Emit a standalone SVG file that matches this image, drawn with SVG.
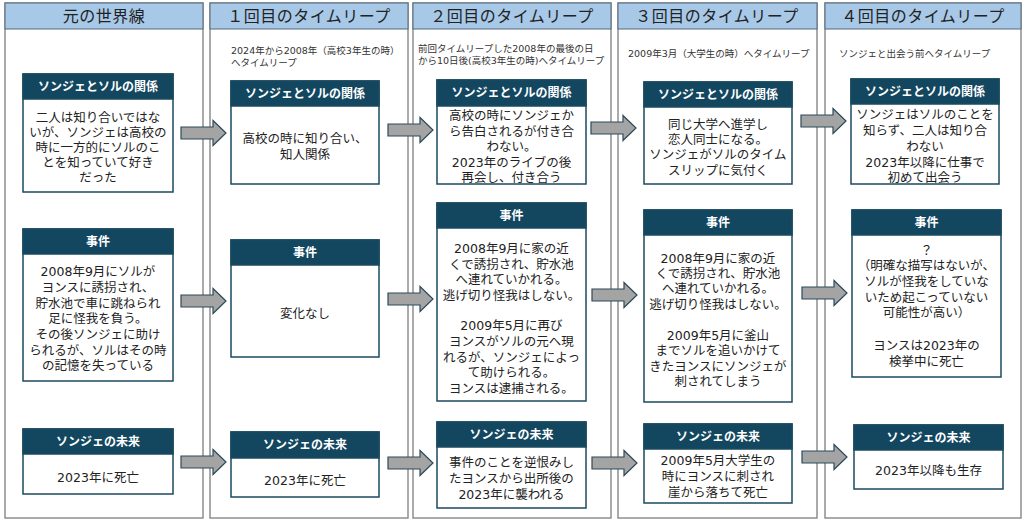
<svg xmlns="http://www.w3.org/2000/svg" width="1024" height="523" viewBox="0 0 1024 523">
<style>
text { font-family: "DejaVu Sans", "Noto Sans CJK JP", sans-serif; }
.col { fill: #ffffff; stroke: #8f8f8f; stroke-width: 1.5; }
.colhead { fill: #a8c8e8; stroke: #55687a; stroke-width: 1; }
.coltitle { font-size: 16px; fill: #222222; text-anchor: middle; dominant-baseline: central; letter-spacing: 0.5px; }
.sub { font-size: 9.5px; fill: #333333; dominant-baseline: central; }
.nbox { fill: #ffffff; stroke: #1b4a60; stroke-width: 1.5; }
.nhead { fill: #134760; stroke: #1b4a60; stroke-width: 1.5; }
.nht { font-size: 12px; font-weight: bold; fill: #ffffff; text-anchor: middle; dominant-baseline: central; }
.body { font-size: 12.5px; fill: #222222; text-anchor: middle; dominant-baseline: central; }
.arr { fill: #a4a4a4; stroke: #2d4a5a; stroke-width: 1.2; stroke-linejoin: miter; }
</style>
<defs>
<path id="arrow" d="M0,-6 H32 V-12.5 L45,0 L32,12.5 V6 H0 Z"/>
</defs>

<g id="columns">
<g id="col1">
<rect class="col" x="5" y="3" width="198" height="515"/>
<rect class="colhead" x="5" y="3" width="198" height="26"/>
<text class="coltitle" x="104" y="16">元の世界線</text>
</g>
<g id="col2">
<rect class="col" x="210" y="3" width="198" height="515"/>
<rect class="colhead" x="210" y="3" width="198" height="26"/>
<text class="coltitle" x="309" y="16">１回目のタイムリープ</text>
<text class="sub"><tspan x="231" y="50">2024年から2008年（高校3年生の時）</tspan><tspan x="231" y="62">へタイムリープ</tspan></text>
</g>
<g id="col3">
<rect class="col" x="413" y="3" width="198" height="515"/>
<rect class="colhead" x="413" y="3" width="198" height="26"/>
<text class="coltitle" x="512" y="16">２回目のタイムリープ</text>
<text class="sub"><tspan x="418" y="48">前回タイムリープした2008年の最後の日</tspan><tspan x="418" y="60">から10日後(高校3年生の時)へタイムリープ</tspan></text>
</g>
<g id="col4">
<rect class="col" x="618" y="3" width="199" height="515"/>
<rect class="colhead" x="618" y="3" width="199" height="26"/>
<text class="coltitle" x="717" y="16">３回目のタイムリープ</text>
<text class="sub" x="628" y="53">2009年3月（大学生の時）へタイムリープ</text>
</g>
<g id="col5">
<rect class="col" x="825" y="3" width="196" height="515"/>
<rect class="colhead" x="825" y="3" width="196" height="26"/>
<text class="coltitle" x="923" y="16">４回目のタイムリープ</text>
<text class="sub" x="839" y="53">ソンジェと出会う前へタイムリープ</text>
</g>
</g>

<g id="connectors">
<use href="#arrow" class="arr" x="181" y="133"/>
<use href="#arrow" class="arr" x="388" y="130"/>
<use href="#arrow" class="arr" x="591" y="128"/>
<use href="#arrow" class="arr" x="801" y="121"/>
<use href="#arrow" class="arr" x="181" y="301"/>
<use href="#arrow" class="arr" x="388" y="299"/>
<use href="#arrow" class="arr" x="592" y="295"/>
<use href="#arrow" class="arr" x="802" y="293"/>
<use href="#arrow" class="arr" x="181" y="462"/>
<use href="#arrow" class="arr" x="388" y="463"/>
<use href="#arrow" class="arr" x="592" y="463"/>
<use href="#arrow" class="arr" x="802" y="457"/>
</g>

<g id="rel1">
<rect class="nbox" x="23" y="74" width="150" height="118"/>
<rect class="nhead" x="23" y="74" width="150" height="25"/>
<text class="nht" x="98" y="86.5">ソンジェとソルの関係</text>
<text class="body"><tspan x="98" y="117">二人は知り合いではな</tspan><tspan x="98" y="132">いが、ソンジェは高校の</tspan><tspan x="98" y="147">時に一方的にソルのこ</tspan><tspan x="98" y="162">とを知っていて好き</tspan><tspan x="98" y="177">だった</tspan></text>
</g>
<g id="rel2">
<rect class="nbox" x="231" y="81" width="148" height="103"/>
<rect class="nhead" x="231" y="81" width="148" height="25"/>
<text class="nht" x="305" y="93.5">ソンジェとソルの関係</text>
<text class="body"><tspan x="305" y="138">高校の時に知り合い、</tspan><tspan x="305" y="154">知人関係</tspan></text>
</g>
<g id="rel3">
<rect class="nbox" x="437" y="80" width="149" height="104"/>
<rect class="nhead" x="437" y="80" width="149" height="26"/>
<text class="nht" x="511.5" y="93">ソンジェとソルの関係</text>
<text class="body"><tspan x="511.5" y="115">高校の時にソンジェか</tspan><tspan x="511.5" y="131">ら告白されるが付き合</tspan><tspan x="511.5" y="146">わない。</tspan><tspan x="511.5" y="162">2023年のライブの後</tspan><tspan x="511.5" y="177">再会し、付き合う</tspan></text>
</g>
<g id="rel4">
<rect class="nbox" x="644" y="82" width="148" height="102"/>
<rect class="nhead" x="644" y="82" width="148" height="25"/>
<text class="nht" x="718" y="94.5">ソンジェとソルの関係</text>
<text class="body"><tspan x="718" y="124">同じ大学へ進学し</tspan><tspan x="718" y="139">恋人同士になる。</tspan><tspan x="718" y="154">ソンジェがソルのタイム</tspan><tspan x="718" y="170">スリップに気付く</tspan></text>
</g>
<g id="rel5">
<rect class="nbox" x="851" y="79" width="148" height="105"/>
<rect class="nhead" x="851" y="79" width="148" height="25"/>
<text class="nht" x="925" y="91.5">ソンジェとソルの関係</text>
<text class="body"><tspan x="925" y="114">ソンジェはソルのことを</tspan><tspan x="925" y="130">知らず、二人は知り合</tspan><tspan x="925" y="146">わない</tspan><tspan x="925" y="162">2023年以降に仕事で</tspan><tspan x="925" y="177">初めて出会う</tspan></text>
</g>

<g id="inc1">
<rect class="nbox" x="23" y="229" width="150" height="152"/>
<rect class="nhead" x="23" y="229" width="150" height="25"/>
<text class="nht" x="98" y="241.5">事件</text>
<text class="body"><tspan x="98" y="271">2008年9月にソルが</tspan><tspan x="98" y="287">ヨンスに誘拐され、</tspan><tspan x="98" y="303">貯水池で車に跳ねられ</tspan><tspan x="98" y="318">足に怪我を負う。</tspan><tspan x="98" y="334">その後ソンジェに助け</tspan><tspan x="98" y="350">られるが、ソルはその時</tspan><tspan x="98" y="365">の記憶を失っている</tspan></text>
</g>
<g id="inc2">
<rect class="nbox" x="231" y="240" width="148" height="117"/>
<rect class="nhead" x="231" y="240" width="148" height="25"/>
<text class="nht" x="305" y="252.5">事件</text>
<text class="body" x="305" y="313">変化なし</text>
</g>
<g id="inc3">
<rect class="nbox" x="437" y="203" width="149" height="198"/>
<rect class="nhead" x="437" y="203" width="149" height="25"/>
<text class="nht" x="511.5" y="215.5">事件</text>
<text class="body"><tspan x="511.5" y="248">2008年9月に家の近</tspan><tspan x="511.5" y="264">くで誘拐され、貯水池</tspan><tspan x="511.5" y="279">へ連れていかれる。</tspan><tspan x="511.5" y="295">逃げ切り怪我はしない。</tspan><tspan x="511.5" y="325">2009年5月に再び</tspan><tspan x="511.5" y="341">ヨンスがソルの元へ現</tspan><tspan x="511.5" y="357">れるが、ソンジェによっ</tspan><tspan x="511.5" y="372">て助けられる。</tspan><tspan x="511.5" y="388">ヨンスは逮捕される。</tspan></text>
</g>
<g id="inc4">
<rect class="nbox" x="644" y="210" width="148" height="192"/>
<rect class="nhead" x="644" y="210" width="148" height="25"/>
<text class="nht" x="718" y="222.5">事件</text>
<text class="body"><tspan x="718" y="258">2008年9月に家の近</tspan><tspan x="718" y="273">くで誘拐され、貯水池</tspan><tspan x="718" y="288">へ連れていかれる。</tspan><tspan x="718" y="304">逃げ切り怪我はしない。</tspan><tspan x="718" y="335">2009年5月に釜山</tspan><tspan x="718" y="350">までソルを追いかけて</tspan><tspan x="718" y="366">きたヨンスにソンジェが</tspan><tspan x="718" y="381">刺されてしまう</tspan></text>
</g>
<g id="inc5">
<rect class="nbox" x="852" y="210" width="149" height="167"/>
<rect class="nhead" x="852" y="210" width="149" height="25"/>
<text class="nht" x="926.5" y="222.5">事件</text>
<text class="body"><tspan x="926.5" y="250">？</tspan><tspan x="926.5" y="265">（明確な描写はないが、</tspan><tspan x="926.5" y="281">ソルが怪我をしていな</tspan><tspan x="926.5" y="297">いため起こっていない</tspan><tspan x="926.5" y="312">可能性が高い）</tspan><tspan x="926.5" y="345">ヨンスは2023年の</tspan><tspan x="926.5" y="361">検挙中に死亡</tspan></text>
</g>

<g id="fut1">
<rect class="nbox" x="23" y="429" width="150" height="65"/>
<rect class="nhead" x="23" y="429" width="150" height="25"/>
<text class="nht" x="98" y="441.5">ソンジェの未来</text>
<text class="body" x="98" y="477">2023年に死亡</text>
</g>
<g id="fut2">
<rect class="nbox" x="231" y="432" width="148" height="65"/>
<rect class="nhead" x="231" y="432" width="148" height="26"/>
<text class="nht" x="305" y="445">ソンジェの未来</text>
<text class="body" x="305" y="480">2023年に死亡</text>
</g>
<g id="fut3">
<rect class="nbox" x="437" y="422" width="149" height="86"/>
<rect class="nhead" x="437" y="422" width="149" height="25"/>
<text class="nht" x="511.5" y="434.5">ソンジェの未来</text>
<text class="body"><tspan x="511.5" y="462">事件のことを逆恨みし</tspan><tspan x="511.5" y="478">たヨンスから出所後の</tspan><tspan x="511.5" y="494">2023年に襲われる</tspan></text>
</g>
<g id="fut4">
<rect class="nbox" x="644" y="424" width="148" height="79"/>
<rect class="nhead" x="644" y="424" width="148" height="25"/>
<text class="nht" x="718" y="436.5">ソンジェの未来</text>
<text class="body"><tspan x="718" y="460">2009年5月大学生の</tspan><tspan x="718" y="476">時にヨンスに刺され</tspan><tspan x="718" y="492">崖から落ちて死亡</tspan></text>
</g>
<g id="fut5">
<rect class="nbox" x="854" y="425" width="149" height="64"/>
<rect class="nhead" x="854" y="425" width="149" height="25"/>
<text class="nht" x="928.5" y="437.5">ソンジェの未来</text>
<text class="body" x="928.5" y="470">2023年以降も生存</text>
</g>
</svg>
